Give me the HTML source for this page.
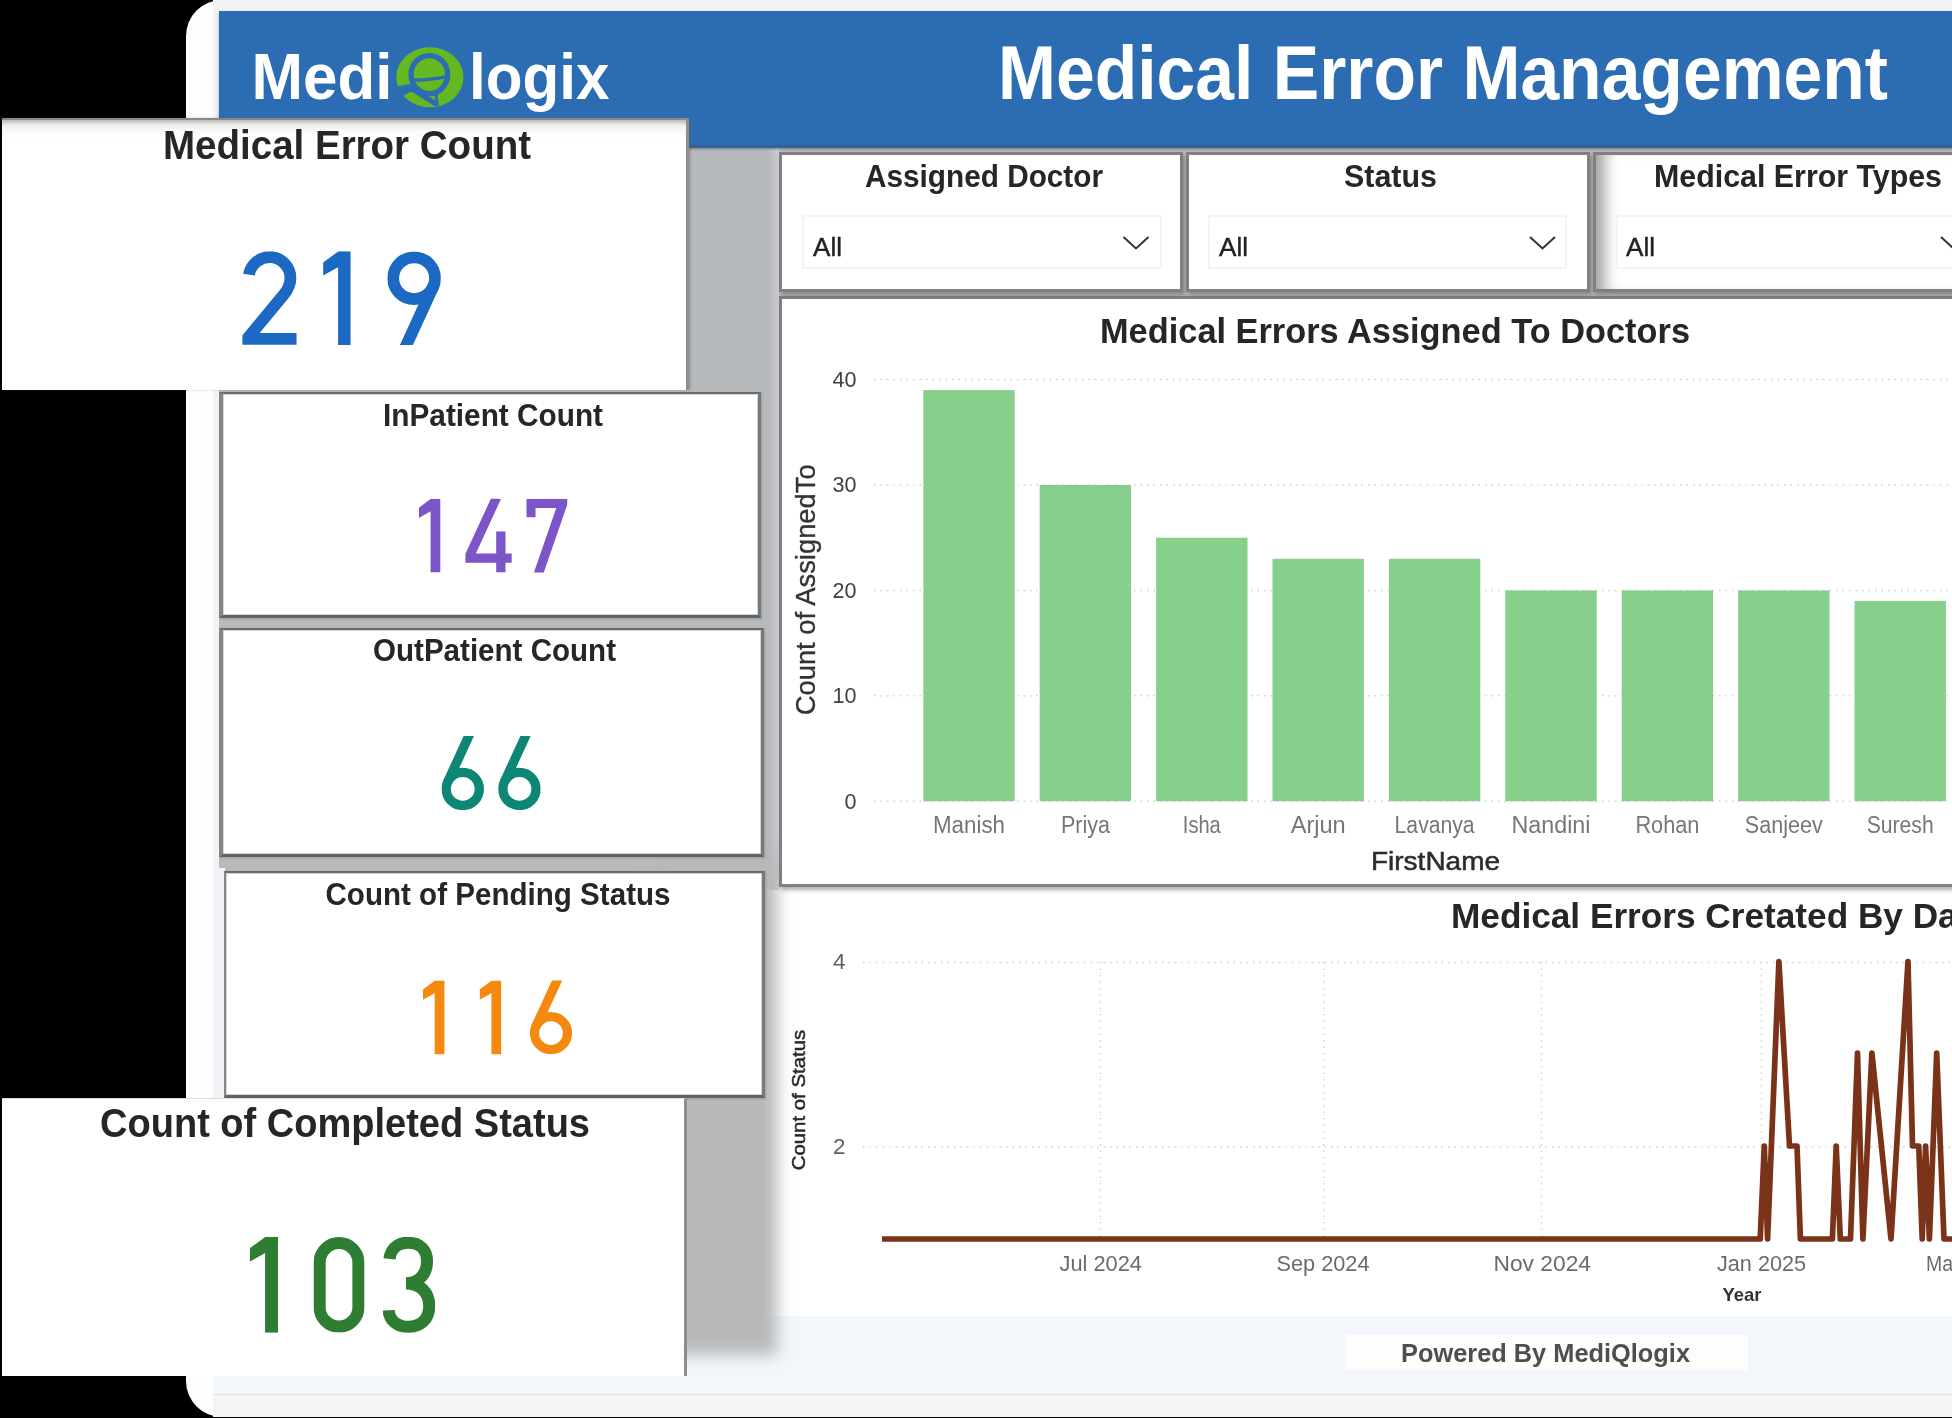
<!DOCTYPE html>
<html lang="en"><head><meta charset="utf-8"><title>Medical Error Management</title>
<style>
html,body{margin:0;padding:0;background:#000;}
body{width:1952px;height:1418px;position:relative;overflow:hidden;font-family:"Liberation Sans",sans-serif;}
div{position:absolute;box-sizing:border-box;}
.panel{left:186px;top:0;width:1800px;height:1417px;background:#fefefe;border-radius:36px 0 0 36px;}
.shot{left:213px;top:0;width:1760px;height:1417px;background:#f1f3f7;}
.hdr{left:219px;top:11px;width:1760px;height:137px;background:#2c6cb3;box-shadow:0 2px 3px rgba(50,60,80,.45);}
.canvas{left:219px;top:148px;width:1760px;height:150px;background:#b7babd;}
.canvas2{left:219px;top:148px;width:560px;height:952px;background:#b7babd;}
.foot1{left:213px;top:1316px;width:1760px;height:78px;background:#f3f6fa;}
.foot2{left:213px;top:1394px;width:1760px;height:23px;background:#f4f4f4;border-top:1px solid #dfe0e2;}
.card{background:#fff;border-style:solid;border-width:2px 3px 3px 4px;border-color:#6a6a6a #787878 #626262 #858585;box-shadow:inset 0 0 0 1px #d4d4d4,1px 1px 2px rgba(90,90,90,.3);}
.big{background:#fff;}
.slicer{background:#fff;border:3px solid #808080;box-shadow:2px 3px 4px rgba(60,60,60,.4);}
.dd{background:#fff;border:2px solid #f4f4f4;}
svg{position:absolute;left:0;top:0;}
text{font-family:"Liberation Sans",sans-serif;}
.wrap{left:-20px;top:-20px;width:1992px;height:1458px;background:#000;filter:blur(0.6px);}
.in{left:20px;top:20px;width:1952px;height:1418px;}
</style></head><body>
<div class="wrap"><div class="in">
<div class="panel"></div>
<div class="shot"></div>
<div class="hdr"></div>
<div class="canvas"></div>
<div class="canvas2"></div>
<div class="foot1"></div>
<div class="foot2"></div>

<div style="left:765px;top:887px;width:1200px;height:429px;background:#fff;"></div>
<div style="left:769px;top:148px;width:10px;height:742px;background:linear-gradient(to right,#b7babd,#cbcdd0);"></div>
<div style="left:219px;top:143px;width:1760px;height:8px;background:linear-gradient(to bottom,rgba(60,85,120,0) 0,rgba(60,85,120,.55) 55%,rgba(90,100,115,.45) 70%,rgba(120,125,130,0) 100%);"></div>
<div style="left:650px;top:850px;width:127px;height:505px;background:#b6b8ba;filter:blur(8px);"></div>
<div style="left:1345px;top:1335px;width:403px;height:35px;background:#fdfdfe;"></div>
<div class="slicer" style="left:779px;top:296px;width:1200px;height:591px;border-width:3px;"></div>
<div class="slicer" style="left:779px;top:152px;width:404px;height:140px;"></div>
<div class="slicer" style="left:1186px;top:152px;width:404px;height:140px;"></div>
<div class="slicer" style="left:1593px;top:152px;width:404px;height:140px;box-shadow:inset 18px 0 14px -9px rgba(90,90,90,.55),2px 3px 4px rgba(60,60,60,.4);"></div>
<div class="dd" style="left:802px;top:215px;width:360px;height:54px;"></div>
<div class="dd" style="left:1208px;top:215px;width:359px;height:54px;"></div>
<div class="dd" style="left:1616px;top:215px;width:360px;height:54px;"></div>
<div class="card" style="left:219px;top:392px;width:542px;height:226px;"></div>
<div class="card" style="left:219px;top:628px;width:545px;height:229px;"></div>
<div style="left:213px;top:868px;width:12px;height:232px;background:#f1f3f6;"></div>
<div class="card" style="left:224px;top:871px;width:541px;height:227px;border-left-width:2.5px;"></div>
<div class="big" style="left:2px;top:118px;width:687px;height:272px;border-top:2px solid #8a8a8a;border-right:3px solid #8d8d8d;box-shadow:2px 0 2px rgba(100,100,100,.35);background:linear-gradient(to bottom,#b9b9b9 0,#ececec 5px,#fbfbfb 12px,#fff 20px);"></div>
<div class="big" style="left:2px;top:1098px;width:685px;height:278px;border-right:3px solid #8d8d8d;border-top:1px solid #ddd;"></div>
<svg width="1952" height="1418" viewBox="0 0 1952 1418">
<text x="251.5" y="99" font-size="64" font-weight="bold" fill="#fff" textLength="141" lengthAdjust="spacingAndGlyphs" >Medi</text>
<text x="469" y="99" font-size="64" font-weight="bold" fill="#fff" textLength="140.5" lengthAdjust="spacingAndGlyphs" >logix</text>
<g fill="none" stroke="#2c6cb3"><ellipse cx="429.9" cy="77.2" rx="33.6" ry="30" fill="#66b821" stroke="none"/><ellipse cx="429.3" cy="74.6" rx="18.3" ry="19" stroke-width="5.4"/><path d="M412 80.2 Q428 80 446 76.8" stroke-width="3.4"/><path d="M410 87.5 L437 104.5" stroke-width="5.2"/><path d="M396 86.5 L410 84 L414 90 L401 97 Z" fill="#2c6cb3" stroke="none"/><path d="M436.3 95 L437.3 106" stroke-width="3"/></g>
<text x="998" y="98.5" font-size="76" font-weight="bold" fill="#fff" textLength="890" lengthAdjust="spacingAndGlyphs" >Medical Error Management</text>
<text x="865" y="187" font-size="31" font-weight="bold" fill="#262626" textLength="238" lengthAdjust="spacingAndGlyphs" >Assigned Doctor</text>
<text x="1344" y="187" font-size="31" font-weight="bold" fill="#262626" textLength="93" lengthAdjust="spacingAndGlyphs" >Status</text>
<text x="1654" y="187" font-size="31" font-weight="bold" fill="#262626" textLength="288" lengthAdjust="spacingAndGlyphs" >Medical Error Types</text>
<text x="813" y="255.5" font-size="25" font-weight="normal" fill="#222" textLength="29" lengthAdjust="spacingAndGlyphs" stroke="#222" stroke-width="0.4">All</text>
<text x="1219" y="255.5" font-size="25" font-weight="normal" fill="#222" textLength="29" lengthAdjust="spacingAndGlyphs" stroke="#222" stroke-width="0.4">All</text>
<text x="1626" y="255.5" font-size="25" font-weight="normal" fill="#222" textLength="29" lengthAdjust="spacingAndGlyphs" stroke="#222" stroke-width="0.4">All</text>
<path d="M1123.5 237 l12.5 11.5 l12.5 -11.5" fill="none" stroke="#333" stroke-width="2"/>
<path d="M1530 237 l12.5 11.5 l12.5 -11.5" fill="none" stroke="#333" stroke-width="2"/>
<path d="M1941 237 l12.5 11.5 l12.5 -11.5" fill="none" stroke="#333" stroke-width="2"/>
<text x="163" y="159" font-size="40" font-weight="bold" fill="#262626" textLength="368" lengthAdjust="spacingAndGlyphs" >Medical Error Count</text>
<text x="383" y="425.5" font-size="30.5" font-weight="bold" fill="#262626" textLength="220" lengthAdjust="spacingAndGlyphs" >InPatient Count</text>
<text x="373" y="661" font-size="30.5" font-weight="bold" fill="#262626" textLength="243" lengthAdjust="spacingAndGlyphs" >OutPatient Count</text>
<text x="325.5" y="905" font-size="30.5" font-weight="bold" fill="#262626" textLength="345" lengthAdjust="spacingAndGlyphs" >Count of Pending Status</text>
<text x="100" y="1137" font-size="40" font-weight="bold" fill="#262626" textLength="490" lengthAdjust="spacingAndGlyphs" >Count of Completed Status</text>
<g transform="translate(242.4 251.2) scale(0.9370)" color="#1b69c2" fill="none" stroke="#1b69c2" stroke-width="12.6" stroke-miterlimit="10"><clipPath id="c1"><rect x="0" y="0" width="58" height="100"/></clipPath><g clip-path="url(#c1)"><path d="M7 25 A22.3 22.3 0 0 1 51.3 28.8 C51.3 36 48.5 41 44 46.5 L5 93.5 H58"/></g></g><g transform="translate(323.1 251.2) scale(0.9370)" color="#1b69c2" fill="none" stroke="#1b69c2" stroke-width="12.6" stroke-miterlimit="10"><clipPath id="c2"><rect x="0" y="0" width="29.5" height="100"/></clipPath><g clip-path="url(#c2)"><polygon points="0,12 16.5,0 29.5,0 29.5,100 16,100 16,17 0,26" stroke="none" fill="currentColor"/></g></g><g transform="translate(387.3 251.2) scale(0.9370)" color="#1b69c2" fill="none" stroke="#1b69c2" stroke-width="12.6" stroke-miterlimit="10"><clipPath id="c3"><rect x="0" y="0" width="57.2" height="100"/></clipPath><g clip-path="url(#c3)"><circle cx="28.6" cy="28.8" r="22.3"/><path d="M48.9 38 L18.6 104"/></g></g>
<g transform="translate(418.8 498.8) scale(0.7370)" color="#7c55c8" fill="none" stroke="#7c55c8" stroke-width="12.6" stroke-miterlimit="10"><clipPath id="c4"><rect x="0" y="0" width="29.5" height="100"/></clipPath><g clip-path="url(#c4)"><polygon points="0,12 16.5,0 29.5,0 29.5,100 16,100 16,17 0,26" stroke="none" fill="currentColor"/></g></g><g transform="translate(465.4 498.8) scale(0.7370)" color="#7c55c8" fill="none" stroke="#7c55c8" stroke-width="12.6" stroke-miterlimit="10"><clipPath id="c5"><rect x="0" y="0" width="63" height="100"/></clipPath><g clip-path="url(#c5)"><path d="M42.4 -2 L4.3 80.6 H63"/><path d="M48.1 44.4 V100"/></g></g><g transform="translate(526.3 498.8) scale(0.7370)" color="#7c55c8" fill="none" stroke="#7c55c8" stroke-width="12.6" stroke-miterlimit="10"><clipPath id="c6"><rect x="0" y="0" width="55.6" height="100"/></clipPath><g clip-path="url(#c6)"><path d="M6.25 25 V6.25 H49.5 L15.6 104"/></g></g>
<g transform="translate(441.5 736.0) scale(0.7430)" color="#0e8676" fill="none" stroke="#0e8676" stroke-width="12.6" stroke-miterlimit="10"><clipPath id="c7"><rect x="0" y="0" width="57.2" height="100"/></clipPath><g clip-path="url(#c7)"><circle cx="28.6" cy="71.2" r="22.3"/><path d="M8.3 62 L38.6 -4"/></g></g><g transform="translate(498.2 736.0) scale(0.7430)" color="#0e8676" fill="none" stroke="#0e8676" stroke-width="12.6" stroke-miterlimit="10"><clipPath id="c8"><rect x="0" y="0" width="57.2" height="100"/></clipPath><g clip-path="url(#c8)"><circle cx="28.6" cy="71.2" r="22.3"/><path d="M8.3 62 L38.6 -4"/></g></g>
<g transform="translate(422.9 980.6) scale(0.7380)" color="#f5880f" fill="none" stroke="#f5880f" stroke-width="12.6" stroke-miterlimit="10"><clipPath id="c9"><rect x="0" y="0" width="29.5" height="100"/></clipPath><g clip-path="url(#c9)"><polygon points="0,12 16.5,0 29.5,0 29.5,100 16,100 16,17 0,26" stroke="none" fill="currentColor"/></g></g><g transform="translate(479.6 980.6) scale(0.7380)" color="#f5880f" fill="none" stroke="#f5880f" stroke-width="12.6" stroke-miterlimit="10"><clipPath id="c10"><rect x="0" y="0" width="29.5" height="100"/></clipPath><g clip-path="url(#c10)"><polygon points="0,12 16.5,0 29.5,0 29.5,100 16,100 16,17 0,26" stroke="none" fill="currentColor"/></g></g><g transform="translate(529.9 980.6) scale(0.7380)" color="#f5880f" fill="none" stroke="#f5880f" stroke-width="12.6" stroke-miterlimit="10"><clipPath id="c11"><rect x="0" y="0" width="57.2" height="100"/></clipPath><g clip-path="url(#c11)"><circle cx="28.6" cy="71.2" r="22.3"/><path d="M8.3 62 L38.6 -4"/></g></g>
<g transform="translate(249.7 1236.8) scale(0.9600)" color="#2e7d32" fill="none" stroke="#2e7d32" stroke-width="12.6" stroke-miterlimit="10"><clipPath id="c12"><rect x="0" y="0" width="29.5" height="100"/></clipPath><g clip-path="url(#c12)"><polygon points="0,12 16.5,0 29.5,0 29.5,100 16,100 16,17 0,26" stroke="none" fill="currentColor"/></g></g><g transform="translate(313.4 1236.8) scale(0.9600)" color="#2e7d32" fill="none" stroke="#2e7d32" stroke-width="12.6" stroke-miterlimit="10"><clipPath id="c13"><rect x="0" y="0" width="53.4" height="100"/></clipPath><g clip-path="url(#c13)"><path d="M6.5 26.7 A20.2 20.2 0 0 1 46.9 26.7 V73.3 A20.2 20.2 0 0 1 6.5 73.3 Z"/></g></g><g transform="translate(382.9 1236.8) scale(0.9600)" color="#2e7d32" fill="none" stroke="#2e7d32" stroke-width="12.6" stroke-miterlimit="10"><clipPath id="c14"><rect x="0" y="0" width="54.6" height="100"/></clipPath><g clip-path="url(#c14)"><path d="M6.9 23 C8 12 16 6.2 26.5 6.2 C38 6.2 46 13 46 25.5 C46 39 37 48.5 24 48.5 C39 48.5 48.3 58 48.3 72 C48.3 86 39 93.8 26.5 93.8 C15 93.8 6.5 87 6 76.5"/></g></g>
<text x="1100" y="342.5" font-size="35" font-weight="bold" fill="#262626" textLength="590" lengthAdjust="spacingAndGlyphs" >Medical Errors Assigned To Doctors</text>
<line x1="874" y1="801.2" x2="1952" y2="801.2" stroke="#cfcfcf" stroke-width="1.5" stroke-dasharray="1.5 5"/>
<text x="844.6" y="808.6" font-size="22.5" font-weight="normal" fill="#404040" textLength="12" lengthAdjust="spacingAndGlyphs" >0</text>
<line x1="874" y1="695.8" x2="1952" y2="695.8" stroke="#cfcfcf" stroke-width="1.5" stroke-dasharray="1.5 5"/>
<text x="832.6" y="703.2" font-size="22.5" font-weight="normal" fill="#404040" textLength="24" lengthAdjust="spacingAndGlyphs" >10</text>
<line x1="874" y1="590.4" x2="1952" y2="590.4" stroke="#cfcfcf" stroke-width="1.5" stroke-dasharray="1.5 5"/>
<text x="832.6" y="597.8000000000001" font-size="22.5" font-weight="normal" fill="#404040" textLength="24" lengthAdjust="spacingAndGlyphs" >20</text>
<line x1="874" y1="485.0" x2="1952" y2="485.0" stroke="#cfcfcf" stroke-width="1.5" stroke-dasharray="1.5 5"/>
<text x="832.6" y="492.40000000000003" font-size="22.5" font-weight="normal" fill="#404040" textLength="24" lengthAdjust="spacingAndGlyphs" >30</text>
<line x1="874" y1="379.6" x2="1952" y2="379.6" stroke="#cfcfcf" stroke-width="1.5" stroke-dasharray="1.5 5"/>
<text x="832.6" y="387.00000000000006" font-size="22.5" font-weight="normal" fill="#404040" textLength="24" lengthAdjust="spacingAndGlyphs" >40</text>
<rect x="923.3" y="390.1" width="91.4" height="411.1" fill="#86d08b"/>
<text x="933.0" y="832.5" font-size="23" font-weight="normal" fill="#767676" textLength="72" lengthAdjust="spacingAndGlyphs" >Manish</text>
<rect x="1039.7" y="485.0" width="91.4" height="316.2" fill="#86d08b"/>
<text x="1060.9" y="832.5" font-size="23" font-weight="normal" fill="#767676" textLength="49" lengthAdjust="spacingAndGlyphs" >Priya</text>
<rect x="1156.1" y="537.7" width="91.4" height="263.5" fill="#86d08b"/>
<text x="1182.8" y="832.5" font-size="23" font-weight="normal" fill="#767676" textLength="38" lengthAdjust="spacingAndGlyphs" >Isha</text>
<rect x="1272.5" y="558.8" width="91.4" height="242.4" fill="#86d08b"/>
<text x="1290.7" y="832.5" font-size="23" font-weight="normal" fill="#767676" textLength="55" lengthAdjust="spacingAndGlyphs" >Arjun</text>
<rect x="1388.9" y="558.8" width="91.4" height="242.4" fill="#86d08b"/>
<text x="1394.6" y="832.5" font-size="23" font-weight="normal" fill="#767676" textLength="80" lengthAdjust="spacingAndGlyphs" >Lavanya</text>
<rect x="1505.3" y="590.4" width="91.4" height="210.8" fill="#86d08b"/>
<text x="1511.5" y="832.5" font-size="23" font-weight="normal" fill="#767676" textLength="79" lengthAdjust="spacingAndGlyphs" >Nandini</text>
<rect x="1621.7" y="590.4" width="91.4" height="210.8" fill="#86d08b"/>
<text x="1635.4" y="832.5" font-size="23" font-weight="normal" fill="#767676" textLength="64" lengthAdjust="spacingAndGlyphs" >Rohan</text>
<rect x="1738.1" y="590.4" width="91.4" height="210.8" fill="#86d08b"/>
<text x="1744.8" y="832.5" font-size="23" font-weight="normal" fill="#767676" textLength="78" lengthAdjust="spacingAndGlyphs" >Sanjeev</text>
<rect x="1854.5" y="600.9" width="91.4" height="200.3" fill="#86d08b"/>
<text x="1866.7" y="832.5" font-size="23" font-weight="normal" fill="#767676" textLength="67" lengthAdjust="spacingAndGlyphs" >Suresh</text>
<text x="1371" y="869.5" font-size="25.5" font-weight="normal" fill="#2c2c2c" textLength="129" lengthAdjust="spacingAndGlyphs" stroke="#2c2c2c" stroke-width="0.5">FirstName</text>
<text x="-715.3" y="814.5" font-size="27.5" font-weight="normal" fill="#333" textLength="251" lengthAdjust="spacingAndGlyphs" stroke="#333" stroke-width="0.35" transform="rotate(-90)">Count of AssignedTo</text>
<text x="1451" y="927.5" font-size="35" font-weight="bold" fill="#262626" textLength="538" lengthAdjust="spacingAndGlyphs" >Medical Errors Cretated By Date</text>
<line x1="863" y1="1147" x2="1952" y2="1147" stroke="#cfcfcf" stroke-width="1.5" stroke-dasharray="1.5 5"/>
<line x1="863" y1="962.5" x2="1952" y2="962.5" stroke="#cfcfcf" stroke-width="1.5" stroke-dasharray="1.5 5"/>
<line x1="1100.4" y1="962" x2="1100.4" y2="1236" stroke="#d4d4d4" stroke-width="1.5" stroke-dasharray="1.5 5"/>
<line x1="1323.7" y1="962" x2="1323.7" y2="1236" stroke="#d4d4d4" stroke-width="1.5" stroke-dasharray="1.5 5"/>
<line x1="1541.5" y1="962" x2="1541.5" y2="1236" stroke="#d4d4d4" stroke-width="1.5" stroke-dasharray="1.5 5"/>
<line x1="1761.5" y1="962" x2="1761.5" y2="1236" stroke="#d4d4d4" stroke-width="1.5" stroke-dasharray="1.5 5"/>
<text x="833" y="969.4" font-size="21.5" font-weight="normal" fill="#606060" textLength="12.5" lengthAdjust="spacingAndGlyphs" >4</text>
<text x="833" y="1153.6" font-size="21.5" font-weight="normal" fill="#606060" textLength="12.5" lengthAdjust="spacingAndGlyphs" >2</text>
<text x="1059.5" y="1271" font-size="22" font-weight="normal" fill="#6b6b6b" textLength="82.5" lengthAdjust="spacingAndGlyphs" >Jul 2024</text>
<text x="1276.5" y="1271" font-size="22" font-weight="normal" fill="#6b6b6b" textLength="93" lengthAdjust="spacingAndGlyphs" >Sep 2024</text>
<text x="1493.5" y="1271" font-size="22" font-weight="normal" fill="#6b6b6b" textLength="97.5" lengthAdjust="spacingAndGlyphs" >Nov 2024</text>
<text x="1717" y="1271" font-size="22" font-weight="normal" fill="#6b6b6b" textLength="89" lengthAdjust="spacingAndGlyphs" >Jan 2025</text>
<text x="1926" y="1271" font-size="22" font-weight="normal" fill="#6b6b6b" textLength="27" lengthAdjust="spacingAndGlyphs" >Ma</text>
<text x="1722.5" y="1301" font-size="18.5" font-weight="bold" fill="#333" textLength="39" lengthAdjust="spacingAndGlyphs" >Year</text>
<text x="-1170.3" y="804.8" font-size="18.5" font-weight="normal" fill="#2a2a2a" textLength="140.5" lengthAdjust="spacingAndGlyphs" stroke="#2a2a2a" stroke-width="0.5" transform="rotate(-90)">Count of Status</text>
<path d="M882 1239 L1760.2 1239 L1764.3 1146 L1767.6 1239 L1778.9 961.5 L1789.5 1146 L1797 1146 L1800.4 1239 L1832.4 1239 L1836.2 1146 L1840.3 1239 L1850.5 1239 L1857.5 1053 L1862.9 1239 L1871.9 1053 L1891 1239 L1908 961.5 L1912.5 1146 L1918.8 1146 L1922.2 1239 L1925.6 1146 L1929.4 1239 L1936.7 1053 L1944 1239 L1960 1239" fill="none" stroke="#7a3319" stroke-width="5.7" stroke-linejoin="round" stroke-linecap="butt"/>
<text x="1401" y="1362" font-size="26" font-weight="bold" fill="#4e4e4e" textLength="289" lengthAdjust="spacingAndGlyphs" >Powered By MediQlogix</text>
</svg>
</div></div>
</body></html>
